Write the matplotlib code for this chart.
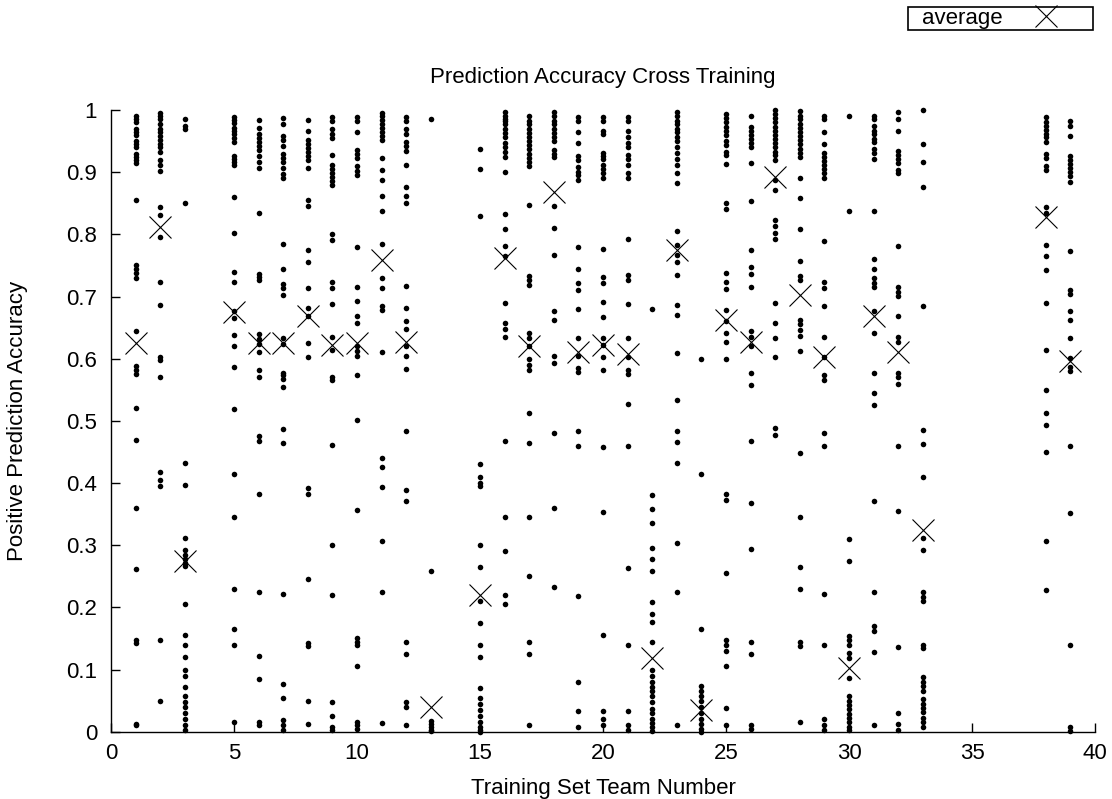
import matplotlib
matplotlib.use("Agg")
import matplotlib.pyplot as plt
from matplotlib.ticker import FuncFormatter
from matplotlib.patches import Rectangle

plt.rcParams['font.family'] = ['Liberation Sans', 'DejaVu Sans']

# ---- data: per training-set team, the prediction accuracies (dots) ----
team_values = {
    1: [0.99, 0.985, 0.98, 0.97, 0.965, 0.96, 0.95, 0.945, 0.94, 0.93, 0.925, 0.92, 0.915,
        0.855, 0.75, 0.745, 0.738, 0.73, 0.645, 0.588, 0.581, 0.575, 0.52, 0.47, 0.36,
        0.262, 0.148, 0.143, 0.012, 0.01],
    2: [0.995, 0.99, 0.985, 0.978, 0.97, 0.965, 0.958, 0.952, 0.945, 0.94, 0.933, 0.92, 0.912,
        0.902, 0.844, 0.831, 0.795, 0.723, 0.687, 0.603, 0.598, 0.571, 0.418, 0.405, 0.395,
        0.147, 0.05],
    3: [0.985, 0.975, 0.97, 0.85, 0.432, 0.397, 0.312, 0.292, 0.285, 0.278, 0.272, 0.266,
        0.205, 0.155, 0.14, 0.12, 0.1, 0.09, 0.072, 0.058, 0.048, 0.04, 0.03, 0.02, 0.01, 0.003],
    5: [0.988, 0.984, 0.979, 0.971, 0.966, 0.961, 0.955, 0.948, 0.926, 0.921, 0.916, 0.911,
        0.86, 0.802, 0.739, 0.724, 0.677, 0.665, 0.638, 0.62, 0.587, 0.519, 0.415, 0.345,
        0.23, 0.165, 0.14, 0.015],
    6: [0.984, 0.971, 0.961, 0.955, 0.948, 0.942, 0.935, 0.926, 0.916, 0.906, 0.835, 0.737,
        0.732, 0.726, 0.64, 0.631, 0.623, 0.61, 0.581, 0.571, 0.476, 0.468, 0.382, 0.225,
        0.122, 0.085, 0.015, 0.01],
    7: [0.987, 0.977, 0.958, 0.952, 0.942, 0.929, 0.923, 0.916, 0.906, 0.897, 0.89, 0.785,
        0.745, 0.72, 0.713, 0.703, 0.634, 0.623, 0.577, 0.573, 0.568, 0.555, 0.487, 0.465,
        0.222, 0.077, 0.055, 0.019, 0.01, 0.003],
    8: [0.984, 0.966, 0.952, 0.945, 0.939, 0.932, 0.926, 0.919, 0.906, 0.855, 0.845, 0.775,
        0.755, 0.714, 0.681, 0.668, 0.626, 0.603, 0.392, 0.382, 0.245, 0.142, 0.138, 0.05,
        0.012],
    9: [0.989, 0.983, 0.969, 0.962, 0.955, 0.928, 0.911, 0.905, 0.898, 0.892, 0.885, 0.879,
        0.801, 0.791, 0.724, 0.713, 0.688, 0.635, 0.614, 0.571, 0.565, 0.461, 0.3, 0.22,
        0.047, 0.025, 0.008, 0.002],
    10: [0.989, 0.983, 0.965, 0.935, 0.929, 0.922, 0.91, 0.902, 0.896, 0.78, 0.715, 0.693,
         0.668, 0.658, 0.62, 0.612, 0.605, 0.574, 0.502, 0.356, 0.15, 0.145, 0.14, 0.105,
         0.016, 0.01, 0.004],
    11: [0.995, 0.991, 0.984, 0.978, 0.971, 0.965, 0.958, 0.952, 0.923, 0.904, 0.888, 0.862,
         0.838, 0.784, 0.73, 0.714, 0.684, 0.678, 0.61, 0.44, 0.426, 0.393, 0.306, 0.225,
         0.014],
    12: [0.989, 0.983, 0.969, 0.962, 0.949, 0.942, 0.934, 0.912, 0.876, 0.862, 0.85, 0.717,
         0.681, 0.66, 0.648, 0.62, 0.604, 0.584, 0.483, 0.388, 0.371, 0.145, 0.125, 0.048,
         0.04, 0.01],
    13: [0.985, 0.258, 0.018, 0.012, 0.007, 0.003, 0.001],
    15: [0.938, 0.905, 0.83, 0.43, 0.41, 0.4, 0.395, 0.3, 0.265, 0.21, 0.175, 0.14, 0.12,
         0.07, 0.055, 0.045, 0.035, 0.025, 0.015, 0.008, 0.003, 0.0],
    16: [0.997, 0.99, 0.986, 0.983, 0.977, 0.97, 0.963, 0.957, 0.947, 0.94, 0.933, 0.925,
         0.901, 0.832, 0.808, 0.781, 0.765, 0.69, 0.657, 0.648, 0.635, 0.467, 0.345, 0.29,
         0.22, 0.205],
    17: [0.99, 0.983, 0.977, 0.97, 0.963, 0.957, 0.95, 0.943, 0.937, 0.93, 0.923, 0.917,
         0.91, 0.847, 0.733, 0.727, 0.718, 0.641, 0.633, 0.62, 0.599, 0.59, 0.582, 0.513,
         0.465, 0.345, 0.25, 0.145, 0.125, 0.01],
    18: [0.997, 0.99, 0.983, 0.977, 0.97, 0.963, 0.957, 0.95, 0.935, 0.929, 0.925, 0.845,
         0.811, 0.767, 0.677, 0.662, 0.605, 0.593, 0.481, 0.36, 0.232],
    19: [0.988, 0.982, 0.964, 0.947, 0.926, 0.92, 0.908, 0.901, 0.895, 0.888, 0.779, 0.745,
         0.721, 0.711, 0.68, 0.633, 0.605, 0.585, 0.578, 0.484, 0.459, 0.218, 0.08, 0.033,
         0.008],
    20: [0.988, 0.982, 0.967, 0.962, 0.931, 0.926, 0.921, 0.911, 0.905, 0.898, 0.891, 0.777,
         0.732, 0.722, 0.691, 0.667, 0.633, 0.622, 0.603, 0.582, 0.458, 0.354, 0.155, 0.033,
         0.02, 0.01],
    21: [0.988, 0.982, 0.967, 0.957, 0.947, 0.941, 0.928, 0.921, 0.911, 0.898, 0.891, 0.793,
         0.734, 0.727, 0.688, 0.633, 0.602, 0.582, 0.576, 0.527, 0.459, 0.264, 0.14, 0.033,
         0.01, 0.002],
    22: [0.68, 0.38, 0.358, 0.336, 0.295, 0.278, 0.258, 0.208, 0.19, 0.176, 0.145, 0.1,
         0.09, 0.08, 0.072, 0.065, 0.058, 0.047, 0.037, 0.03, 0.021, 0.014, 0.008, 0.001],
    23: [0.997, 0.99, 0.983, 0.977, 0.97, 0.964, 0.957, 0.95, 0.94, 0.931, 0.921, 0.911,
         0.898, 0.882, 0.806, 0.783, 0.767, 0.755, 0.735, 0.686, 0.67, 0.609, 0.534, 0.483,
         0.466, 0.432, 0.304, 0.225, 0.011],
    24: [0.6, 0.415, 0.165, 0.073, 0.065, 0.058, 0.05, 0.04, 0.03, 0.02, 0.012, 0.005, 0.0],
    25: [0.993, 0.987, 0.98, 0.973, 0.967, 0.96, 0.95, 0.943, 0.933, 0.927, 0.913, 0.851,
         0.84, 0.738, 0.723, 0.712, 0.678, 0.66, 0.642, 0.627, 0.6, 0.383, 0.373, 0.255,
         0.147, 0.14, 0.13, 0.105, 0.038, 0.01],
    26: [0.991, 0.973, 0.967, 0.96, 0.953, 0.947, 0.94, 0.915, 0.853, 0.775, 0.747, 0.736,
         0.716, 0.645, 0.635, 0.621, 0.577, 0.557, 0.468, 0.368, 0.294, 0.145, 0.125, 0.01,
         0.004],
    27: [1.0, 0.993, 0.987, 0.98, 0.973, 0.967, 0.96, 0.953, 0.947, 0.94, 0.933, 0.927, 0.92,
         0.887, 0.871, 0.823, 0.813, 0.802, 0.793, 0.69, 0.657, 0.633, 0.602, 0.488, 0.478],
    28: [0.998, 0.991, 0.985, 0.978, 0.971, 0.965, 0.958, 0.951, 0.945, 0.938, 0.931, 0.925,
         0.89, 0.858, 0.809, 0.757, 0.733, 0.727, 0.663, 0.656, 0.646, 0.636, 0.613, 0.448,
         0.345, 0.265, 0.23, 0.145, 0.138, 0.015],
    29: [0.991, 0.985, 0.965, 0.945, 0.931, 0.924, 0.918, 0.912, 0.905, 0.898, 0.891, 0.79,
         0.723, 0.713, 0.685, 0.635, 0.603, 0.574, 0.565, 0.481, 0.46, 0.222, 0.14, 0.02,
         0.01, 0.002],
    30: [0.99, 0.837, 0.31, 0.275, 0.154, 0.147, 0.14, 0.127, 0.118, 0.087, 0.058, 0.05,
         0.043, 0.036, 0.029, 0.022, 0.015, 0.008, 0.003],
    31: [0.991, 0.985, 0.974, 0.967, 0.961, 0.954, 0.948, 0.938, 0.931, 0.921, 0.838, 0.761,
         0.744, 0.73, 0.722, 0.715, 0.676, 0.642, 0.577, 0.545, 0.525, 0.371, 0.225, 0.17,
         0.162, 0.128, 0.011],
    32: [0.997, 0.985, 0.967, 0.934, 0.927, 0.921, 0.914, 0.904, 0.898, 0.782, 0.715, 0.708,
         0.701, 0.668, 0.635, 0.627, 0.577, 0.57, 0.559, 0.46, 0.355, 0.137, 0.03, 0.012,
         0.002],
    33: [1.0, 0.946, 0.917, 0.876, 0.685, 0.486, 0.463, 0.41, 0.312, 0.292, 0.224, 0.217,
         0.21, 0.14, 0.134, 0.088, 0.08, 0.073, 0.066, 0.052, 0.045, 0.038, 0.031, 0.022,
         0.015, 0.008],
    38: [0.988, 0.981, 0.975, 0.968, 0.962, 0.956, 0.949, 0.93, 0.923, 0.91, 0.904, 0.844,
         0.834, 0.783, 0.765, 0.743, 0.689, 0.614, 0.55, 0.512, 0.494, 0.45, 0.307, 0.228],
    39: [0.982, 0.975, 0.958, 0.926, 0.919, 0.913, 0.906, 0.9, 0.894, 0.884, 0.773, 0.711,
         0.704, 0.676, 0.662, 0.634, 0.601, 0.586, 0.58, 0.46, 0.352, 0.14, 0.008, 0.001],
}

avg_teams = [1, 2, 3, 5, 6, 7, 8, 9, 10, 11, 12, 13, 15, 16, 17, 18, 19, 20, 21, 22, 23,
             24, 25, 26, 27, 28, 29, 30, 31, 32, 33, 38, 39]
avg_values = [0.625, 0.812, 0.275, 0.675, 0.625, 0.625, 0.668, 0.622, 0.625, 0.758, 0.627,
              0.04, 0.22, 0.762, 0.62, 0.868, 0.61, 0.622, 0.608, 0.118, 0.775, 0.035, 0.663,
              0.627, 0.892, 0.703, 0.603, 0.103, 0.668, 0.61, 0.325, 0.828, 0.597]

title = "Prediction Accuracy Cross Training"
xlabel = "Training Set Team Number"
ylabel = "Positive Prediction Accuracy"
x_ticks = list(range(0, 41, 5))
y_ticks = [0, 0.1, 0.2, 0.3, 0.4, 0.5, 0.6, 0.7, 0.8, 0.9, 1.0]

# ---- figure ----
W, H = 1112, 799
FS = 16
fig = plt.figure(figsize=(W / 100, H / 100), dpi=100)
L, R, T, B = 111, 1095, 110, 731.7
ax = fig.add_axes([L / W, 1 - B / H, (R - L) / W, (B - T) / H])

xs, ys = [], []
for team, vals in team_values.items():
    xs.extend([team] * len(vals))
    ys.extend(vals)
ax.plot(xs, ys, linestyle='none', marker='o', markersize=4.0, color='black',
        markeredgewidth=0, clip_on=False)
ax.plot(avg_teams, avg_values, linestyle='none', marker='x', markersize=16,
        markeredgewidth=0.8, color='black', label='average', clip_on=False)

ax.set_xlim(0, 40)
ax.set_ylim(0, 1)
ax.set_xticks(x_ticks)
ax.set_yticks(y_ticks)
ax.yaxis.set_major_formatter(FuncFormatter(lambda v, p: '%g' % round(v, 2)))
ax.tick_params(direction='in', length=6.5, width=1, labelsize=FS, top=False, right=False)
ax.tick_params(axis='x', pad=8)
ax.tick_params(axis='y', pad=10)
for s in ['top', 'right']:
    ax.spines[s].set_visible(False)
for s in ['left', 'bottom']:
    ax.spines[s].set_linewidth(1.0)

ax.set_title(title, fontsize=FS, y=1 + 33 / (B - T), va='center', pad=0)
ax.set_xlabel(xlabel, fontsize=FS)
ax.xaxis.set_label_coords(0.5, -57 / (B - T))
ax.xaxis.label.set_va('center')
ax.set_ylabel(ylabel, fontsize=FS)
ax.yaxis.set_label_coords(-93 / (R - L), 0.5)
ax.yaxis.label.set_va('center')

# legend (gnuplot style: text first, sample after, inside a plain box)
leg = ax.legend(loc='center left', bbox_to_anchor=(922 / W, 1 - 18.5 / H),
                bbox_transform=fig.transFigure, markerfirst=False, fontsize=FS,
                frameon=False, borderpad=0, handlelength=1.5, handletextpad=1.2,
                borderaxespad=0)
fig.patches.append(Rectangle((908 / W, 1 - 30 / H), 185 / W, 23 / H,
                             transform=fig.transFigure, fill=False,
                             edgecolor='black', linewidth=1.2))

fig.savefig('out.png', dpi=100)
